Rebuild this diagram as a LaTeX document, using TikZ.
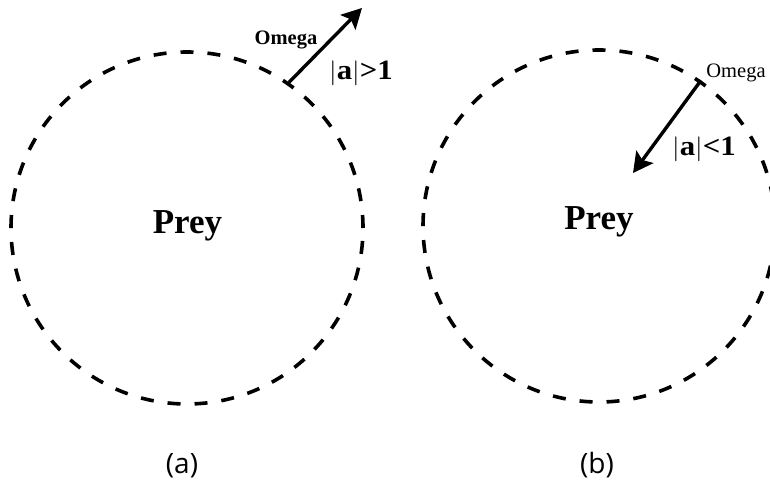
\documentclass[tikz,border=0pt]{standalone}
\usepackage{fontspec}
\setmainfont{Liberation Serif}
\newfontfamily\labelfont{Open Sans}
\usetikzlibrary{arrows.meta}
\begin{document}
\begin{tikzpicture}[x=1pt,y=-1pt,
  preycircle/.style={draw, circle, minimum size=352pt, inner sep=0pt, line width=3.6pt, dash pattern=on 13pt off 14pt},
  movearrow/.style={line width=3.4pt, -{Stealth[length=20pt,width=21pt,inset=4pt]}},
  preytext/.style={font=\fontsize{35}{35}\selectfont\bfseries, anchor=base, inner sep=0pt},
  omegatext/.style={font=\fontsize{20.5}{20.5}\selectfont\bfseries, anchor=base, inner sep=0pt},
  condtext/.style={font=\fontsize{28}{28}\selectfont\bfseries, anchor=base, inner sep=0pt},
  captext/.style={font=\labelfont\fontsize{28}{28}\selectfont, anchor=base, inner sep=0pt}]
\useasboundingbox (0,0) rectangle (770,481);
\fill[white] (0,0) rectangle (770,481);
% (a)
\node[preycircle] (c1) at (187,228) {};
\node[preytext] (p1) at (187.5,233) {Prey};
\coordinate (e1) at (362,8);
\draw[movearrow] (c1.55) -- (e1);
\node[omegatext] (o1) at (286,45) {Omega};
\node[condtext] (a1) at (361,80) {\scalebox{1.1}[1]{$|$a$|$\textgreater1}};
\node[captext] (capa) at (182,473) {(a)};
% (b)
\node[preycircle] (c2) at (599,226) {};
\node[preytext] (p2) at (599,229) {Prey};
\coordinate (e2) at (633,173);
\draw[movearrow] (c2.55) -- (e2);
\node[omegatext, font=\fontsize{20.5}{20.5}\selectfont] (o2) at (736,78) {Omega};
\node[condtext] (a2) at (704,156) {\scalebox{1.1}[1]{$|$a$|$\textless1}};
\node[captext] (capb) at (597,473) {(b)};
\end{tikzpicture}
\end{document}
